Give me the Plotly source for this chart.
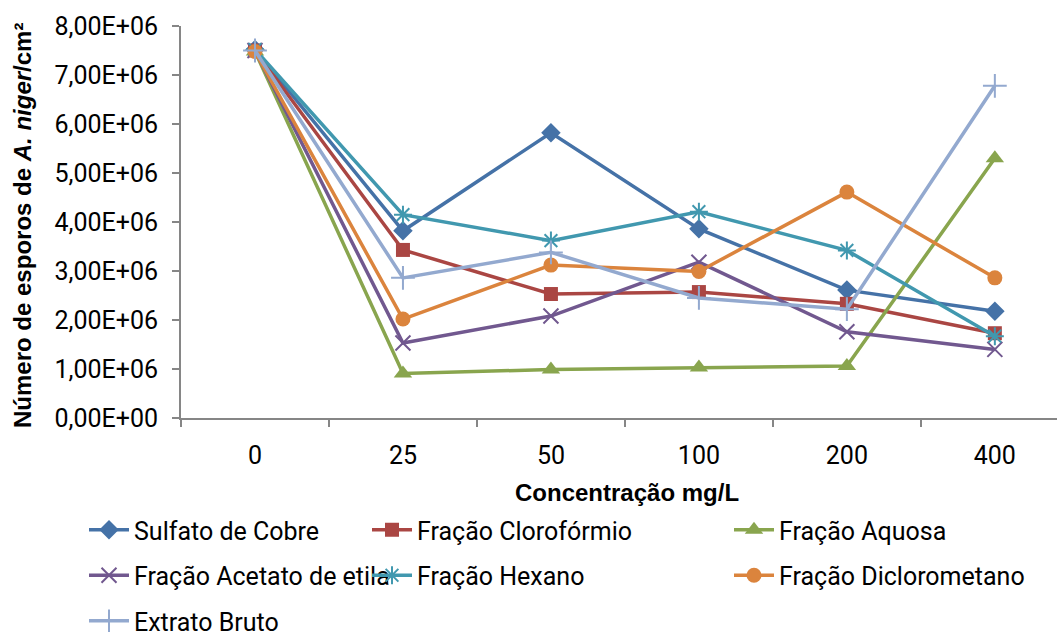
import plotly.graph_objects as go

categories = ["0", "25", "50", "100", "200", "400"]

series_names = ["Sulfato de Cobre", "Fração Clorofórmio", "Fração Aquosa",
                "Fração Acetato de etila", "Fração Hexano", "Fração Diclorometano",
                "Extrato Bruto"]

sulfato_cobre = [7.52e6, 3.82e6, 5.82e6, 3.86e6, 2.61e6, 2.18e6]
fracao_cloroformio = [7.50e6, 3.43e6, 2.53e6, 2.57e6, 2.33e6, 1.73e6]
fracao_aquosa = [7.48e6, 0.91e6, 0.99e6, 1.03e6, 1.06e6, 5.30e6]
fracao_acetato = [7.50e6, 1.53e6, 2.08e6, 3.18e6, 1.76e6, 1.40e6]
fracao_hexano = [7.52e6, 4.15e6, 3.62e6, 4.21e6, 3.42e6, 1.67e6]
fracao_diclorometano = [7.48e6, 2.02e6, 3.12e6, 2.99e6, 4.61e6, 2.86e6]
extrato_bruto = [7.50e6, 2.86e6, 3.38e6, 2.45e6, 2.22e6, 6.78e6]

y_tick_values = [0, 1e6, 2e6, 3e6, 4e6, 5e6, 6e6, 7e6, 8e6]
y_tick_labels = ["0,00E+00", "1,00E+06", "2,00E+06", "3,00E+06", "4,00E+06",
                 "5,00E+06", "6,00E+06", "7,00E+06", "8,00E+06"]

x_title = "<b>Concentração mg/L</b>"
y_title = "<b>Número de esporos de <i>A. niger</i>/cm²</b>"

all_series = [sulfato_cobre, fracao_cloroformio, fracao_aquosa, fracao_acetato,
              fracao_hexano, fracao_diclorometano, extrato_bruto]

colors = ["#4572A7", "#AA4643", "#89A54E", "#71588F", "#4198AF", "#DB843D", "#93A9CF"]
symbols = ["diamond", "square", "triangle-up", "x-thin-open", "asterisk-open",
           "circle", "cross-thin-open"]
sizes = [15, 14, 16, 15, 15, 15, 17]
legend_ids = ["legend", "legend2", "legend3", "legend", "legend2", "legend3", "legend"]

fig = go.Figure()
for i, (name, vals) in enumerate(zip(series_names, all_series)):
    thin = symbols[i].endswith("open")
    fig.add_trace(go.Scatter(
        x=categories, y=vals, name=name, mode="lines+markers",
        line=dict(color=colors[i], width=3.5),
        marker=dict(symbol=symbols[i], size=sizes[i], color=colors[i],
                    line=dict(color=colors[i], width=2 if thin else 0)),
        legend=legend_ids[i], legendgroup=name,
    ))

legend_font = dict(family="Roboto, sans-serif", size=25, color="#000000")
def leg(xpx):
    return dict(xref="container", yref="container", x=xpx / 1057, y=1 - 507 / 639,
                xanchor="left", yanchor="top", font=legend_font, bgcolor="rgba(0,0,0,0)",
                tracegroupgap=10, itemwidth=40, borderwidth=0)

tick_font = dict(family="Roboto, sans-serif", size=25, color="#000000")
title_font = dict(family="Liberation Sans, Arial, sans-serif", size=24, color="#000000")

fig.update_layout(
    width=1057, height=639,
    margin=dict(l=181, r=0, t=26, b=221, autoexpand=False),
    plot_bgcolor="white", paper_bgcolor="white",
    font=dict(family="Roboto, sans-serif", color="#000000"),
    legend=leg(84), legend2=leg(367), legend3=leg(729),
    xaxis=dict(
        type="category", range=[-0.5, 5.42],
        showline=True, linecolor="#868686", linewidth=2,
        ticks="outside", tickson="boundaries", ticklen=7, tickwidth=2, tickcolor="#868686",
        showgrid=False, tickfont=tick_font, ticklabelstandoff=14, tickangle=0,
    ),
    yaxis=dict(
        range=[0, 8e6], tickvals=y_tick_values, ticktext=y_tick_labels,
        showline=True, linecolor="#868686", linewidth=2,
        ticks="outside", ticklen=7, tickwidth=2, tickcolor="#868686",
        showgrid=False, zeroline=False, tickfont=tick_font, ticklabelstandoff=9,
    ),
    annotations=[
        dict(text=x_title, xref="paper", yref="paper", x=(627 - 181) / 876,
             y=(418 - 492) / 392, xanchor="center", yanchor="middle", showarrow=False,
             font=title_font),
        dict(text=y_title, xref="paper", yref="paper", x=(22 - 181) / 876,
             y=(418 - 226) / 392, xanchor="center", yanchor="middle", showarrow=False,
             textangle=-90, font=title_font),
    ],
)

fig.write_html("out.html")
